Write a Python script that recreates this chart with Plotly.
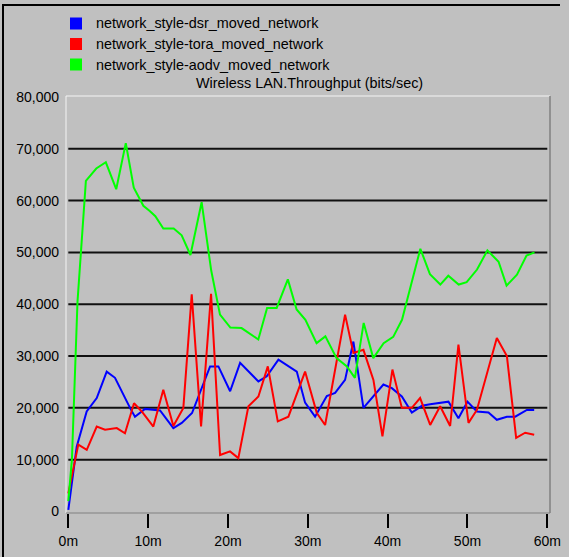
import plotly.graph_objects as go

# ---- data -------------------------------------------------------------
series_names = [
    "network_style-dsr_moved_network",
    "network_style-tora_moved_network",
    "network_style-aodv_moved_network",
]
series_colors = ["#0000FF", "#FF0000", "#00FF00"]

# simulation time (minutes) / throughput (bits/sec)
dsr_t = [0, 1.05, 2.3, 3.56, 4.81, 5.85, 7.73, 8.35, 9.61, 11.49, 13.16, 14.21,
         15.5, 17.76, 18.8, 20.27, 21.52, 23.81, 24.86, 26.32, 28.62, 29.66,
         30.91, 32.38, 33.42, 34.67, 35.71, 36.97, 39.47, 40.53, 41.78, 43.03,
         44.29, 45.33, 47.62, 48.87, 50.0, 51.18, 52.63, 53.68, 54.94, 55.98,
         57.44, 58.36]
dsr_v = [300, 12500, 19300, 21900, 27000, 25800, 20000, 18300, 19800, 19500,
         16100, 17100, 19000, 28000, 28000, 23200, 28700, 25100, 26100, 29300,
         27000, 21000, 18300, 22300, 22900, 25400, 32800, 20000, 24500, 23800,
         22200, 19100, 20400, 20700, 21200, 18000, 21200, 19300, 19100, 17700,
         18300, 18300, 19600, 19600]

tora_t = [0, 1.25, 2.31, 3.56, 4.6, 6.07, 7.1, 8.23, 9.2, 10.65, 11.9, 13.16,
          14.41, 15.46, 16.63, 17.88, 19.01, 20.26, 21.3, 22.56, 23.81, 24.99,
          26.24, 27.57, 29.66, 31.13, 32.17, 34.67, 35.71, 36.97, 38.22, 39.35,
          40.6, 41.78, 43.03, 44.07, 45.33, 46.58, 47.83, 48.87, 50.13, 51.18,
          53.68, 54.94, 56.1, 57.23, 58.36]
tora_v = [3500, 12900, 11900, 16400, 15800, 16100, 15100, 20900, 19300, 16400,
          23500, 16500, 20000, 41900, 16400, 42000, 10900, 11600, 10300, 20300,
          22200, 28000, 17400, 18300, 27000, 19000, 16700, 38000, 30600, 31200,
          25400, 14500, 27400, 20000, 20000, 21900, 16700, 20300, 16500, 32200,
          17100, 19600, 33500, 30000, 14200, 15200, 14800]

aodv_t = [0, 0.45, 1.15, 2.2, 3.5, 4.7, 6.0, 7.2, 8.2, 9.4, 10.2, 10.9, 11.9,
          13.2, 14.2, 15.3, 16.7, 17.9, 19.0, 20.3, 21.7, 23.8, 24.9, 26.1,
          27.5, 28.6, 29.7, 31.1, 32.2, 33.6, 34.9, 35.9, 37.0, 38.2, 39.5,
          40.7, 41.8, 44.1, 45.3, 46.6, 47.6, 48.9, 49.9, 51.2, 52.5, 53.9,
          54.9, 56.2, 57.4, 58.4]
aodv_v = [2000, 10000, 40500, 63800, 66200, 67400, 62200, 71100, 62500, 59000,
          58000, 57000, 54600, 54600, 53300, 49500, 59700, 46500, 38000, 35500,
          35400, 33200, 39300, 39300, 44800, 39000, 37000, 32500, 33800, 29600,
          28000, 25800, 36400, 29600, 32500, 33700, 37000, 50700, 45800, 43800,
          45500, 43800, 44250, 46700, 50400, 48200, 43600, 45700, 49400, 50000]

x_tick_vals = [0, 10, 20, 30, 40, 50, 60]
x_tick_text = ["0m", "10m", "20m", "30m", "40m", "50m", "60m"]
y_tick_vals = [0, 10000, 20000, 30000, 40000, 50000, 60000, 70000, 80000]
y_tick_text = ["0", "10,000", "20,000", "30,000", "40,000", "50,000",
               "60,000", "70,000", "80,000"]
grid_vals = [10000, 20000, 30000, 40000, 50000, 60000, 70000]
chart_title = "Wireless LAN.Throughput (bits/sec)"

# ---- layout geometry (pixels) -----------------------------------------
W, H = 569, 557
PL, PR, PT, PB = 66, 550, 96, 513
BG = "#C0C0C0"
FONT = "Liberation Sans, Arial, sans-serif"


def px_x(px):
    return (px - PL) / (PR - PL)


def px_y(py):
    return (PB - py) / (PB - PT)


fig = go.Figure()
for t, v, name, col in zip([dsr_t, tora_t, aodv_t], [dsr_v, tora_v, aodv_v],
                           series_names, series_colors):
    fig.add_trace(go.Scatter(x=t, y=v, name=name, mode="lines",
                             line=dict(color=col, width=2),
                             showlegend=False, hoverinfo="skip"))

shapes = []
# horizontal grid lines
for g in grid_vals:
    shapes.append(dict(type="line", xref="x", yref="y", x0=0, x1=60, y0=g, y1=g,
                       line=dict(color="#101010", width=2), layer="below"))
# raised plot frame
shapes += [
    dict(type="line", xref="paper", yref="paper", x0=0, x1=1, y0=1, y1=1,
         line=dict(color="#F4F4F4", width=1)),
    dict(type="line", xref="paper", yref="paper", x0=0, x1=0, y0=0, y1=1,
         line=dict(color="#F4F4F4", width=1)),
    dict(type="line", xref="paper", yref="paper", x0=1, x1=1, y0=0, y1=1,
         line=dict(color="#808080", width=1.5)),
    dict(type="line", xref="paper", yref="paper", x0=0, x1=1, y0=0, y1=0,
         line=dict(color="#808080", width=1)),
]
# outer panel border
shapes += [
    dict(type="line", xref="paper", yref="paper", x0=px_x(3), x1=px_x(3),
         y0=px_y(4), y1=px_y(H), line=dict(color="#000000", width=2)),
    dict(type="line", xref="paper", yref="paper", x0=px_x(3), x1=px_x(560),
         y0=px_y(5), y1=px_y(5), line=dict(color="#000000", width=2)),
]

annotations = []
# legend swatches and labels
legend_rows = [23.5, 44, 64.5]
for name, col, ry in zip(series_names, series_colors, legend_rows):
    shapes.append(dict(type="rect", xref="paper", yref="paper",
                       x0=px_x(70), x1=px_x(82), y0=px_y(ry - 6), y1=px_y(ry + 6),
                       fillcolor=col, line=dict(width=0)))
    annotations.append(dict(xref="paper", yref="paper", x=px_x(94), y=px_y(ry),
                            xanchor="left", yanchor="middle", text=name,
                            showarrow=False,
                            font=dict(family=FONT, size=14.4, color="#000000")))
annotations.append(dict(xref="paper", yref="paper", x=px_x(309), y=px_y(83),
                        xanchor="center", yanchor="middle", text=chart_title,
                        showarrow=False,
                        font=dict(family=FONT, size=14.4, color="#000000")))

fig.update_layout(
    width=W, height=H, autosize=False,
    margin=dict(l=PL, r=W - PR, t=PT, b=H - PB, pad=0),
    paper_bgcolor=BG, plot_bgcolor=BG,
    font=dict(family=FONT, size=14, color="#000000"),
    shapes=shapes, annotations=annotations,
    showlegend=False,
    xaxis=dict(range=[-0.29, 60.34], tickvals=x_tick_vals, ticktext=x_tick_text,
               showgrid=False, zeroline=False, showline=False, automargin=False,
               ticks="outside", ticklen=14, tickwidth=2, tickcolor="#000000",
               ticklabelstandoff=1, fixedrange=True),
    yaxis=dict(range=[-290, 80193], tickvals=y_tick_vals, ticktext=y_tick_text,
               showgrid=False, zeroline=False, showline=False, automargin=False,
               ticks="", ticklabelstandoff=6, fixedrange=True),
)

fig.write_html("out.html")
